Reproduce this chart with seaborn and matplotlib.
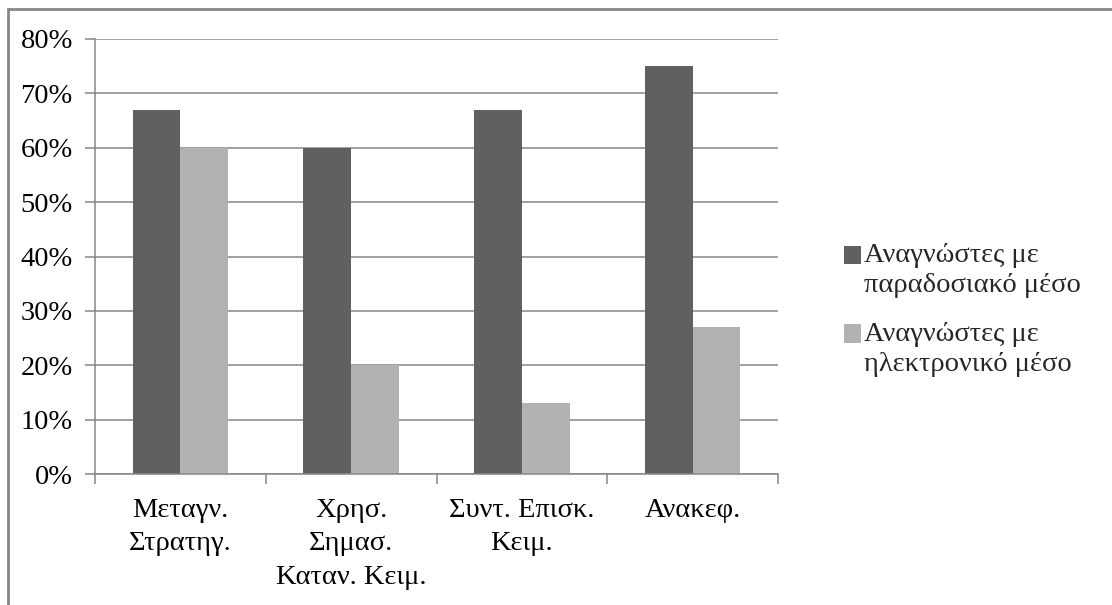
import matplotlib
matplotlib.use("Agg")
import matplotlib.pyplot as plt
import seaborn as sns
import pandas as pd
import numpy as np
from matplotlib.lines import Line2D
from matplotlib.ticker import FixedLocator, PercentFormatter

categories = ["Μεταγν.\nΣτρατηγ.", "Χρησ.\nΣημασ.\nΚαταν. Κειμ.", "Συντ. Επισκ.\nΚειμ.", "Ανακεφ."]
series_names = ["Αναγνώστες με\nπαραδοσιακό μέσο", "Αναγνώστες με\nηλεκτρονικό μέσο"]
traditional = [67, 60, 67, 75]
electronic = [60, 20, 13, 27]
y_ticks = [0, 10, 20, 30, 40, 50, 60, 70, 80]

df = pd.DataFrame({
    "cat": categories * 2,
    "series": [series_names[0]] * 4 + [series_names[1]] * 4,
    "value": traditional + electronic,
})

sns.set_theme(style="white")
plt.rcParams["font.family"] = ["Liberation Serif", "DejaVu Serif"]
FS = 20.5

fig = plt.figure(figsize=(11.12, 6.05), dpi=100)
ax = fig.add_axes([95/1112, 1-474/605, (778-95)/1112, (474-39)/605])

palette = {series_names[0]: "#606060", series_names[1]: "#b2b2b2"}
sns.barplot(data=df, x="cat", y="value", hue="series", palette=palette,
            width=0.56, ax=ax, saturation=1, edgecolor="none", linewidth=0,
            order=categories, hue_order=series_names, legend=True)

ax.set_xlim(-0.5, 3.5)
ax.set_ylim(0, 80)
ax.set_yticks(y_ticks)
ax.yaxis.set_major_formatter(PercentFormatter(decimals=0))
ax.grid(axis="y", color="#868686", linewidth=1.1)
ax.set_axisbelow(True)
ax.set_xlabel("")
ax.set_ylabel("")

for s in ["top", "right"]:
    ax.spines[s].set_visible(False)
for s in ["left", "bottom"]:
    ax.spines[s].set_color("#868686")
    ax.spines[s].set_linewidth(1.1)

ax.tick_params(axis="y", which="major", left=True, length=7, width=1.1,
               color="#868686", pad=9, labelsize=FS, labelcolor="black")
ax.tick_params(axis="x", which="major", bottom=False, length=0, pad=17,
               labelsize=FS, labelcolor="black")
ax.xaxis.set_minor_locator(FixedLocator([-0.5, 0.5, 1.5, 2.5, 3.5]))
ax.tick_params(axis="x", which="minor", bottom=True, length=7.5, width=1.1,
               color="#868686")
for lbl in ax.get_xticklabels():
    lbl.set_linespacing(1.45)

handles, labels = ax.get_legend_handles_labels()
ax.get_legend().remove()
leg = fig.legend(handles, labels, loc="upper left", bbox_to_anchor=(844/1112, 1-243/605),
                 frameon=False, fontsize=FS, handlelength=0.6, handleheight=0.6,
                 handletextpad=0.1, labelspacing=0.85, borderpad=0, borderaxespad=0)
for t in leg.get_texts():
    t.set_linespacing(1.25)
for h in leg.legend_handles:
    h.set_y(h.get_y() + 11)

# outer border (top and left only, as in reference crop)
fig.add_artist(Line2D([7.5/1112, 7.5/1112], [0, 1-8.5/605], transform=fig.transFigure,
                      color="#868686", linewidth=2))
fig.add_artist(Line2D([7.5/1112, 1], [1-8.5/605, 1-8.5/605], transform=fig.transFigure,
                      color="#868686", linewidth=2))

fig.savefig("out.png", dpi=100)
